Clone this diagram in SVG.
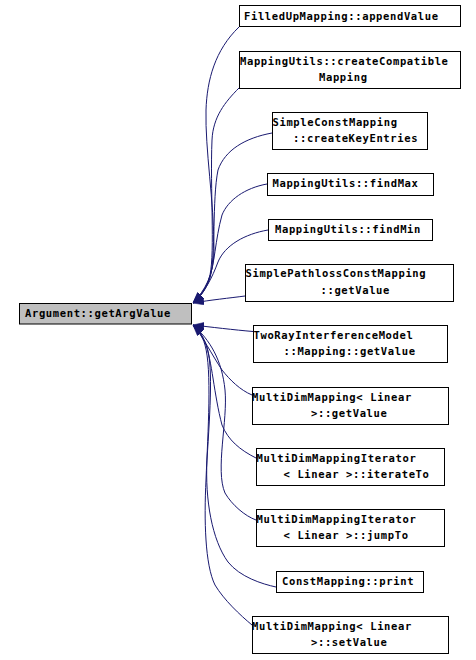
<svg xmlns="http://www.w3.org/2000/svg" width="476" height="660" viewBox="0 0 476 660">
<style>
.n rect{fill:#ffffff;stroke:#000000;stroke-width:1}
.m rect{fill:#bfbfbf;stroke:#000000;stroke-width:1}
text{font-family:"DejaVu Sans Mono","Liberation Mono",monospace;font-weight:bold;font-size:10.5px;letter-spacing:0.63px;fill:#000000}
.e path{fill:none;stroke:#191970;stroke-width:1;marker-end:url(#ah)}
</style>
<defs>
<marker id="ah" viewBox="0 0 10 7" refX="10" refY="3.5" markerWidth="11" markerHeight="8" markerUnits="userSpaceOnUse" orient="auto">
<polygon points="0,0 10,3.5 0,7" fill="#191970" stroke="#191970" stroke-width="0.5"/>
</marker>
</defs>
<rect width="476" height="660" fill="#ffffff"/>
<g id="connectors" class="e">
<path d="M239,27 C215,50 207,80 206,110 C205,150 214,200 214,250 C214,275 205,290 193,303"/>
<path d="M239,88 C225,102 213,117 212,140 C210,190 215,250 210,275 C207,288 200,296 193,303"/>
<path d="M272,133 C245,138 225,150 218,170 C212,200 216,255 210,278 C206,290 200,297 193,303"/>
<path d="M267,184 C245,188 228,200 222,215 C215,240 215,265 208,282 C204,292 199,298 193,303"/>
<path d="M268,230 C245,234 225,245 218,262 C212,278 205,292 193,303"/>
<path d="M245,296 C230,298 210,300 193,303"/>
<path d="M253,331.5 C235,330 210,327 193,325"/>
<path d="M252,395 C240,390 230,380 222,370 C212,355 202,335 193,325"/>
<path d="M256,458 C240,450 228,440 222,425 C214,395 212,360 205,342 C202,335 198,329 193,325"/>
<path d="M256,520 C245,516 232,505 225,493 C215,470 228,420 225,390 C222,360 210,340 193,325"/>
<path d="M276,587 C262,584 240,577 228,562 C212,540 205,500 207,460 C210,410 214,360 205,342 C202,335 198,329 193,325"/>
<path d="M252,625 C240,615 224,600 215,585 C205,565 204,520 206,480 C208,430 212,370 205,345 C202,335 198,329 193,325"/>
</g>
<g id="main" class="m"><rect x="19.5" y="303.5" width="172" height="20.5"/><text x="25" y="317">Argument::getArgValue</text></g>
<g id="n1" class="n"><rect x="239.5" y="5.5" width="221" height="21"/><text x="244" y="19.5">FilledUpMapping::appendValue</text></g>
<g id="n2" class="n"><rect x="239.5" y="51.5" width="221" height="37"/><text x="240" y="64.5">MappingUtils::createCompatible</text><text x="319" y="80.5">Mapping</text></g>
<g id="n3" class="n"><rect x="272.5" y="112.5" width="155" height="37"/><text x="272.5" y="126">SimpleConstMapping</text><text x="293" y="142">::createKeyEntries</text></g>
<g id="n4" class="n"><rect x="267.5" y="173.5" width="166" height="22"/><text x="272.5" y="186.5">MappingUtils::findMax</text></g>
<g id="n5" class="n"><rect x="268.5" y="219.5" width="164" height="21"/><text x="275" y="232.5">MappingUtils::findMin</text></g>
<g id="n6" class="n"><rect x="245.5" y="264.5" width="208" height="37"/><text x="245.5" y="277">SimplePathlossConstMapping</text><text x="320.5" y="293.5">::getValue</text></g>
<g id="n7" class="n"><rect x="253.5" y="325.5" width="194" height="37"/><text x="253.5" y="338.5">TwoRayInterferenceModel</text><text x="283.5" y="354.5">::Mapping::getValue</text></g>
<g id="n8" class="n"><rect x="252.5" y="387.5" width="196" height="37"/><text x="252" y="400.5">MultiDimMapping&lt; Linear</text><text x="311" y="416.5">&gt;::getValue</text></g>
<g id="n9" class="n"><rect x="256.5" y="448.5" width="188" height="37"/><text x="256.5" y="462">MultiDimMappingIterator</text><text x="283.5" y="478">&lt; Linear &gt;::iterateTo</text></g>
<g id="n10" class="n"><rect x="256.5" y="509.5" width="188" height="37"/><text x="256.5" y="523">MultiDimMappingIterator</text><text x="283.5" y="539">&lt; Linear &gt;::jumpTo</text></g>
<g id="n11" class="n"><rect x="276.5" y="571.5" width="147" height="21"/><text x="282" y="585">ConstMapping::print</text></g>
<g id="n12" class="n"><rect x="252.5" y="616.5" width="196" height="37"/><text x="252" y="629.5">MultiDimMapping&lt; Linear</text><text x="311" y="645.5">&gt;::setValue</text></g>
</svg>
